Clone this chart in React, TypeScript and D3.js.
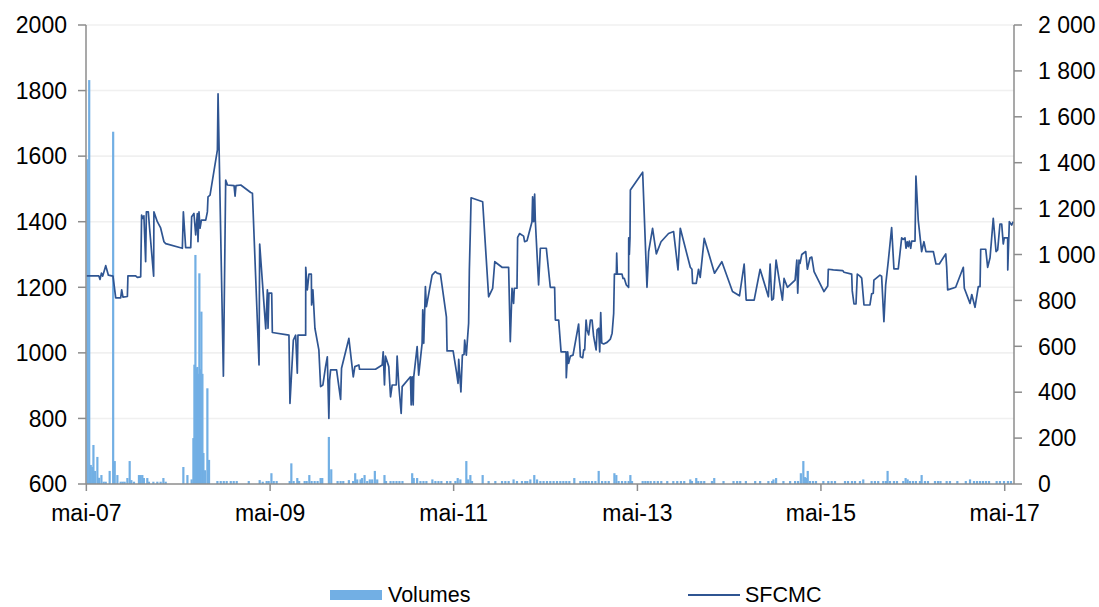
import React from "react";
import * as d3 from "d3";

// ---------- DATA (dates as decimal years) ----------
const priceDates = [
2007.330,2007.464,2007.478,2007.493,2007.507,2007.540,2007.569,2007.619,2007.649,2007.703,
2007.714,2007.728,2007.776,2007.782,2007.866,2007.885,2007.921,2007.931,2007.946,2007.956,
2007.975,2007.983,2008.004,2008.018,2008.062,2008.065,2008.102,2008.138,2008.174,2008.193,
2008.374,2008.385,2008.410,2008.465,2008.475,2008.500,2008.519,2008.537,2008.544,2008.555,
2008.566,2008.581,2008.628,2008.646,2008.653,2008.675,2008.755,2008.762,2008.820,2008.845,
2008.864,2008.936,2008.947,2008.957,2009.009,2009.117,2009.136,2009.208,2009.215,2009.281,
2009.299,2009.306,2009.316,2009.346,2009.353,2009.534,2009.545,2009.582,2009.607,2009.625,
2009.632,2009.716,2009.717,2009.734,2009.752,2009.778,2009.781,2009.795,2009.817,2009.860,
2009.879,2009.904,2009.933,2009.952,2009.969,2009.977,2009.988,2010.053,2010.097,2010.107,
2010.187,2010.235,2010.252,2010.296,2010.303,2010.477,2010.550,2010.561,2010.575,2010.586,
2010.622,2010.641,2010.659,2010.703,2010.713,2010.731,2010.757,2010.768,2010.858,2010.866,
2010.877,2010.888,2010.894,2010.931,2010.948,2010.985,2010.992,2011.003,2011.021,2011.032,
2011.094,2011.130,2011.149,2011.185,2011.250,2011.257,2011.323,2011.359,2011.377,2011.384,
2011.408,2011.424,2011.442,2011.449,2011.467,2011.492,2011.500,2011.511,2011.519,2011.645,
2011.710,2011.754,2011.777,2011.856,2011.928,2011.946,2011.965,2011.982,2011.990,2012.019,
2012.026,2012.047,2012.091,2012.102,2012.128,2012.182,2012.189,2012.200,2012.211,2012.218,
2012.254,2012.273,2012.338,2012.381,2012.428,2012.436,2012.472,2012.498,2012.552,2012.555,
2012.570,2012.580,2012.599,2012.628,2012.689,2012.708,2012.733,2012.744,2012.755,2012.770,
2012.781,2012.798,2012.817,2012.835,2012.852,2012.879,2012.890,2012.907,2012.918,2012.929,
2012.940,2012.961,2012.998,2013.034,2013.053,2013.070,2013.078,2013.099,2013.103,2013.110,
2013.161,2013.172,2013.186,2013.208,2013.233,2013.234,2013.241,2013.248,2013.252,2013.386,
2013.433,2013.451,2013.494,2013.535,2013.586,2013.668,2013.723,2013.771,2013.796,2013.905,
2013.923,2013.930,2013.970,2013.995,2014.013,2014.057,2014.122,2014.169,2014.249,2014.365,
2014.441,2014.492,2014.514,2014.601,2014.666,2014.756,2014.775,2014.793,2014.811,2014.840,
2014.909,2014.927,2014.963,2015.047,2015.066,2015.076,2015.090,2015.101,2015.120,2015.163,
2015.181,2015.210,2015.229,2015.254,2015.362,2015.403,2015.409,2015.464,2015.566,2015.580,
2015.664,2015.670,2015.689,2015.711,2015.725,2015.754,2015.773,2015.798,2015.863,2015.881,
2015.899,2015.906,2015.972,2015.990,2016.015,2016.034,2016.062,2016.099,2016.124,2016.171,
2016.208,2016.225,2016.244,2016.255,2016.269,2016.280,2016.291,2016.306,2016.317,2016.353,
2016.363,2016.388,2016.425,2016.450,2016.472,2016.552,2016.581,2016.617,2016.687,2016.697,
2016.708,2016.795,2016.878,2016.889,2016.951,2016.970,2017.005,2017.041,2017.060,2017.067,
2017.122,2017.143,2017.169,2017.204,2017.234,2017.252,2017.277,2017.296,2017.313,2017.324,
2017.361,2017.362,2017.379,2017.405,2017.422
];
const priceValues = [
1235,1235,1224,1243,1234,1266,1237,1234,1168,1168,
1192,1170,1172,1235,1235,1230,1232,1420,1410,1418,
1278,1430,1430,1380,1234,1430,1400,1381,1339,1333,
1319,1430,1321,1321,1415,1425,1360,1425,1339,1430,
1380,1405,1405,1430,1476,1481,1619,1790,929,1527,
1512,1510,1478,1510,1512,1489,1487,963,1332,1073,
1192,1075,1182,1182,1062,1054,846,1039,1054,938,
1054,1054,1261,1192,1240,1240,1146,1192,1075,1009,
897,902,958,988,800,917,948,948,858,953,
1044,927,958,963,950,950,963,1003,902,990,
958,866,902,902,990,902,815,897,927,841,
927,841,927,1019,932,1029,1131,1029,1202,1141,
1237,1248,1243,1240,1110,1006,1006,943,907,980,
881,993,995,1039,993,1090,1253,1375,1473,1461,
1171,1197,1278,1261,1261,1034,1197,1151,1197,1197,
1352,1364,1356,1339,1342,1400,1476,1400,1484,1405,
1207,1319,1319,1200,1200,1100,1100,1003,1003,924,
1003,968,990,993,1088,988,985,1009,1009,1100,
1070,1055,1100,1100,1050,1009,1070,1075,1003,1123,
1030,1027,1032,1042,1060,1120,1240,1240,1304,1240,
1240,1227,1227,1207,1200,1351,1300,1351,1497,1551,
1200,1309,1380,1302,1339,1364,1370,1253,1380,1261,
1255,1212,1212,1255,1230,1349,1288,1243,1278,1187,
1174,1271,1161,1161,1255,1171,1271,1161,1165,1283,
1161,1227,1200,1222,1283,1182,1283,1273,1300,1309,
1255,1290,1292,1248,1187,1204,1255,1253,1251,1246,
1240,1189,1149,1149,1240,1234,1228,1146,1146,1180,
1182,1222,1237,1234,1095,1207,1278,1382,1256,1256,
1351,1346,1351,1319,1339,1324,1341,1319,1341,1341,
1539,1405,1309,1339,1309,1309,1271,1271,1302,1263,
1192,1200,1261,1197,1151,1178,1139,1202,1202,1316,
1316,1261,1290,1410,1309,1314,1393,1393,1332,1351,
1351,1253,1400,1390,1400
];

const volumeDates = [
2007.342,2007.360,2007.377,2007.393,2007.406,2007.423,2007.449,2007.467,2007.493,2007.518,
2007.540,2007.583,2007.621,2007.638,2007.667,2007.703,2007.725,2007.746,2007.776,2007.801,
2007.819,2007.848,2007.902,2007.921,2007.939,2007.956,2007.993,2008.011,2008.059,2008.102,
2008.138,2008.168,2008.193,2008.385,2008.429,2008.475,2008.494,2008.505,2008.516,2008.527,
2008.537,2008.548,2008.559,2008.570,2008.581,2008.592,2008.603,2008.620,2008.646,2008.664,
2008.755,2008.791,2008.824,2008.856,2008.900,2008.932,2008.965,2009.096,2009.215,2009.248,
2009.291,2009.313,2009.343,2009.368,2009.400,2009.542,2009.560,2009.585,2009.625,2009.645,
2009.705,2009.727,2009.756,2009.781,2009.814,2009.846,2009.879,2009.897,2009.969,2009.995,
2010.064,2010.097,2010.126,2010.187,2010.233,2010.256,2010.278,2010.314,2010.330,2010.358,
2010.387,2010.415,2010.441,2010.470,2010.496,2010.575,2010.592,2010.641,2010.673,2010.706,
2010.738,2010.771,2010.877,2010.894,2010.931,2010.967,2011.000,2011.032,2011.097,2011.130,
2011.163,2011.195,2011.257,2011.293,2011.348,2011.373,2011.402,2011.467,2011.486,2011.511,
2011.529,2011.645,2011.710,2011.783,2011.856,2011.892,2011.928,2011.982,2012.019,2012.073,
2012.109,2012.131,2012.164,2012.207,2012.237,2012.273,2012.308,2012.345,2012.381,2012.417,
2012.454,2012.490,2012.523,2012.555,2012.588,2012.642,2012.708,2012.740,2012.768,2012.798,
2012.835,2012.871,2012.907,2012.944,2012.980,2013.016,2013.078,2013.099,2013.124,2013.161,
2013.197,2013.233,2013.252,2013.270,2013.386,2013.415,2013.442,2013.473,2013.513,2013.551,
2013.589,2013.654,2013.720,2013.763,2013.803,2013.839,2013.905,2013.923,2013.970,2013.992,
2014.024,2014.057,2014.141,2014.166,2014.267,2014.376,2014.416,2014.449,2014.511,2014.612,
2014.666,2014.756,2014.797,2014.811,2014.840,2014.920,2014.993,2015.047,2015.080,2015.110,
2015.137,2015.156,2015.174,2015.185,2015.210,2015.243,2015.275,2015.355,2015.409,2015.446,
2015.482,2015.591,2015.624,2015.667,2015.700,2015.754,2015.790,2015.881,2015.917,2015.953,
2016.008,2016.037,2016.055,2016.081,2016.124,2016.157,2016.225,2016.251,2016.273,2016.298,
2016.331,2016.363,2016.407,2016.425,2016.461,2016.494,2016.570,2016.603,2016.630,2016.697,
2016.733,2016.813,2016.905,2016.951,2016.994,2017.027,2017.060,2017.092,2017.125,2017.158,
2017.241,2017.277,2017.321,2017.364,2017.397
];
const volumeValues = [
1415,1760,83,74,170,57,118,27,39,10,
10,57,1535,100,39,10,10,10,26,100,
17,10,39,39,39,26,26,10,10,10,
10,26,10,74,39,20,200,520,998,504,
510,480,918,500,751,480,135,60,417,105,
13,13,13,13,13,13,13,13,17,10,
13,13,47,13,13,13,90,13,26,13,
13,13,39,13,13,13,26,26,205,64,
13,13,13,17,13,47,20,20,26,39,
13,20,20,57,20,39,13,13,13,13,
13,13,47,26,26,13,13,13,20,13,
13,13,13,13,13,26,20,100,20,39,
13,39,13,13,13,13,13,20,13,13,
13,13,20,39,20,13,13,13,13,13,
13,13,13,13,13,26,13,13,13,13,
13,13,57,13,13,13,47,39,13,13,
13,13,39,13,13,13,13,13,13,13,
13,13,13,13,13,13,20,13,26,13,
13,13,13,26,13,13,13,13,13,13,
13,13,13,20,26,13,13,13,13,47,
100,30,26,57,13,13,13,13,13,13,
13,13,13,13,13,13,20,13,13,13,
13,13,57,13,13,13,13,26,20,13,
13,13,13,39,13,13,13,13,13,13,
13,13,13,20,13,13,13,13,13,13,
13,13,13,13,13
];

const xTickYears = [2007, 2009, 2011, 2013, 2015, 2017];
const xDomainYears = [2007.325, 2017.43];
const leftDomain = [600, 2000];
const rightDomain = [0, 2000];
const seriesNames = ["Volumes", "SFCMC"];

// ---------- HELPERS ----------
const toDate = (t: number) => {
  const y = Math.floor(t);
  const s = new Date(y, 0, 1).getTime();
  const e = new Date(y + 1, 0, 1).getTime();
  return new Date(s + (t - y) * (e - s));
};

const frLocale = d3.timeFormatLocale({
  dateTime: "%A %e %B %Y à %X",
  date: "%d/%m/%Y",
  time: "%H:%M:%S",
  periods: ["AM", "PM"],
  days: ["dimanche", "lundi", "mardi", "mercredi", "jeudi", "vendredi", "samedi"],
  shortDays: ["dim.", "lun.", "mar.", "mer.", "jeu.", "ven.", "sam."],
  months: ["janvier", "février", "mars", "avril", "mai", "juin", "juillet", "août", "septembre", "octobre", "novembre", "décembre"],
  shortMonths: ["janv.", "févr.", "mars", "avr.", "mai", "juin", "juil.", "août", "sept.", "oct.", "nov.", "déc."],
});
const fmtX = frLocale.format("%b-%y");
const fmtRight = (v: number) =>
  v >= 1000 ? `${Math.floor(v / 1000)} ${String(v % 1000).padStart(3, "0")}` : String(v);

const W = 1099, H = 607;
const L = 86, R = 1014, T = 25, B = 484;
const FONT = "'Liberation Sans', Arial, sans-serif";
const FS = 23;
const AXIS = "#8c8c8c";
const GRID = "#f0f0f0";
const LINE_C = "#2f5592";
const BAR_C = "#72afe4";

export default function App() {
  const x = d3.scaleTime().domain(xDomainYears.map(toDate)).range([L, R]);
  const yL = d3.scaleLinear().domain(leftDomain).range([B, T]);
  const yR = d3.scaleLinear().domain(rightDomain).range([B, T]);

  const leftTicks = yL.ticks(7);
  const rightTicks = yR.ticks(10);
  const xTicks = xTickYears.map((y) => new Date(y, 4, 1));

  const pts = priceDates.map((t, i) => [x(toDate(t)), yL(priceValues[i])] as [number, number]);
  const linePath = d3.line()(pts) || "";

  const barW = 2.2;

  return (
    <svg width={W} height={H} style={{ position: "absolute", left: 0, top: 0, background: "#fff" }} fontFamily={FONT}>
      {/* gridlines */}
      {leftTicks.filter((v) => v !== leftDomain[0]).map((v) => (
        <line key={"g" + v} x1={L} x2={R} y1={yL(v)} y2={yL(v)} stroke={GRID} strokeWidth={1.6} />
      ))}
      {/* volume bars */}
      {volumeDates.map((t, i) => {
        const cx = x(toDate(t));
        const y = yR(volumeValues[i]);
        return <rect key={"b" + i} x={cx - barW / 2} y={y} width={barW} height={B - y} fill={BAR_C} />;
      })}
      {/* price line */}
      <path d={linePath} fill="none" stroke={LINE_C} strokeWidth={1.7} strokeLinejoin="round" />
      {/* left axis */}
      <line x1={L} x2={L} y1={T} y2={B} stroke={AXIS} strokeWidth={1.5} />
      {leftTicks.map((v) => (
        <g key={"l" + v}>
          <line x1={L - 8} x2={L} y1={yL(v)} y2={yL(v)} stroke={AXIS} strokeWidth={1.5} />
          <text x={67} y={yL(v)} dy="0.36em" textAnchor="end" fontSize={FS} fill="#000">{v}</text>
        </g>
      ))}
      {/* right axis */}
      <line x1={R} x2={R} y1={T} y2={B} stroke={AXIS} strokeWidth={1.5} />
      {rightTicks.map((v) => (
        <g key={"r" + v}>
          <line x1={R} x2={R + 8} y1={yR(v)} y2={yR(v)} stroke={AXIS} strokeWidth={1.5} />
          <text x={1038} y={yR(v)} dy="0.36em" textAnchor="start" fontSize={FS} fill="#000">{fmtRight(v)}</text>
        </g>
      ))}
      {/* bottom axis */}
      <line x1={L} x2={R} y1={B} y2={B} stroke={AXIS} strokeWidth={1.5} />
      {xTicks.map((d, i) => (
        <g key={"x" + i}>
          <line x1={x(d)} x2={x(d)} y1={B} y2={B + 7} stroke={AXIS} strokeWidth={1.5} />
          <text x={x(d)} y={521} textAnchor="middle" fontSize={FS} fill="#000">{fmtX(d)}</text>
        </g>
      ))}
      {/* legend */}
      <rect x={330} y={590} width={52} height={10} fill={BAR_C} />
      <text x={388} y={602} fontSize={21.5} fill="#000">{seriesNames[0]}</text>
      <line x1={688} x2={740} y1={595} y2={595} stroke={LINE_C} strokeWidth={2} />
      <text x={745} y={602} fontSize={21.5} fill="#000">{seriesNames[1]}</text>
    </svg>
  );
}
